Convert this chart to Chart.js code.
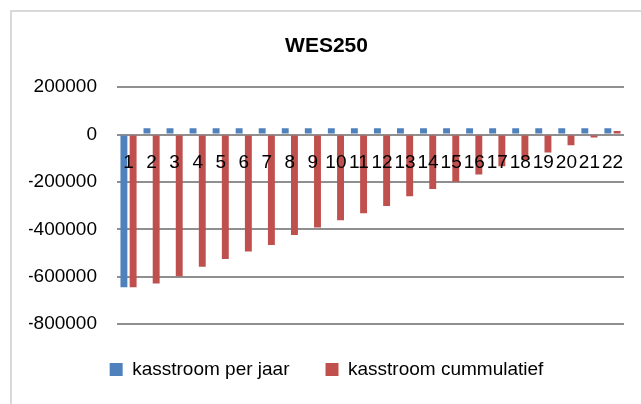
<!DOCTYPE html>
<html>
<head>
<meta charset="utf-8">
<script src="https://cdn.jsdelivr.net/npm/chart.js@4"></script>
<style>
    html, body { margin: 0; padding: 0; background: #fff; overflow: hidden; }
    #frame {
        position: absolute;
        left: 10px;
        top: 10px;
        width: 640px;
        height: 394px;
        border-left: 2px solid #d9d9d9;
        border-top: 2px solid #d9d9d9;
        box-sizing: border-box;
    }
    #wes { position: absolute; left: -2px; top: -2px; }
</style>
</head>
<body>
<div id="frame">
    <canvas id="wes" width="640" height="394"></canvas>
</div>
<script>
/* ---------- DATA ---------- */

const years = ["1", "2", "3", "4", "5", "6", "7", "8", "9", "10", "11",
    "12", "13", "14", "15", "16", "17", "18", "19", "20", "21", "22"];

const perJaar = [-645000, 27000, 27000, 27000, 27000, 27000, 27000, 27000, 27000, 27000, 27000,
    27000, 27000, 27000, 27000, 27000, 27000, 27000, 27000, 27000, 27000, 27000];

const cummulatief = [-645000, -629000, -598000, -558000, -525000, -494000, -466000, -424000, -393000, -362000, -332000,
    -302000, -261000, -230000, -199000, -169000, -134000, -109000, -76000, -45000, -12000, 15000];

const yMin = -800000;
const yMax = 200000;
const yStep = 200000;

/* ---------- CHART ---------- */

const font = "'Liberation Sans', Arial, sans-serif";

new Chart(document.getElementById("wes").getContext("2d"), {
    type: "bar",
    data: {
        labels: years,
        datasets: [
            {
                label: "kasstroom per jaar",
                data: perJaar,
                backgroundColor: "#4F81BD",
                categoryPercentage: 0.8,
                barPercentage: 0.75
            },
            {
                label: "kasstroom cummulatief",
                data: cummulatief,
                backgroundColor: "#C0504D",
                categoryPercentage: 0.8,
                barPercentage: 0.75
            }
        ]
    },
    options: {
        responsive: false,
        animation: false,
        layout: { padding: { left: 19, right: 26, top: 0, bottom: 15 } },
        scales: {
            x: {
                position: { y: 0 },
                grid: { display: false, drawTicks: false },
                border: { display: false },
                ticks: {
                    z: 1,   // labels sit on top of the bars, like in Excel
                    color: "#000",
                    font: { family: font, size: 19 },
                    padding: 17,
                    autoSkip: false,
                    maxRotation: 0
                }
            },
            y: {
                min: yMin,
                max: yMax,
                afterFit: scale => { scale.width = 88; },
                grid: { color: "#8f8f8f", lineWidth: 2, drawTicks: false },
                border: { display: false },
                ticks: {
                    stepSize: yStep,
                    color: "#000",
                    font: { family: font, size: 19 },
                    padding: 20,
                    callback: value => String(value)
                }
            }
        },
        plugins: {
            title: {
                display: true,
                text: "WES250",
                color: "#000",
                font: { family: font, size: 21, weight: "bold" },
                padding: { top: 24, bottom: 28 }
            },
            legend: {
                position: "bottom",
                labels: {
                    color: "#000",
                    font: { family: font, size: 19 },
                    boxWidth: 13,
                    boxHeight: 13,
                    padding: 36
                }
            },
            tooltip: { enabled: false }
        }
    }
});
</script>
</body>
</html>
